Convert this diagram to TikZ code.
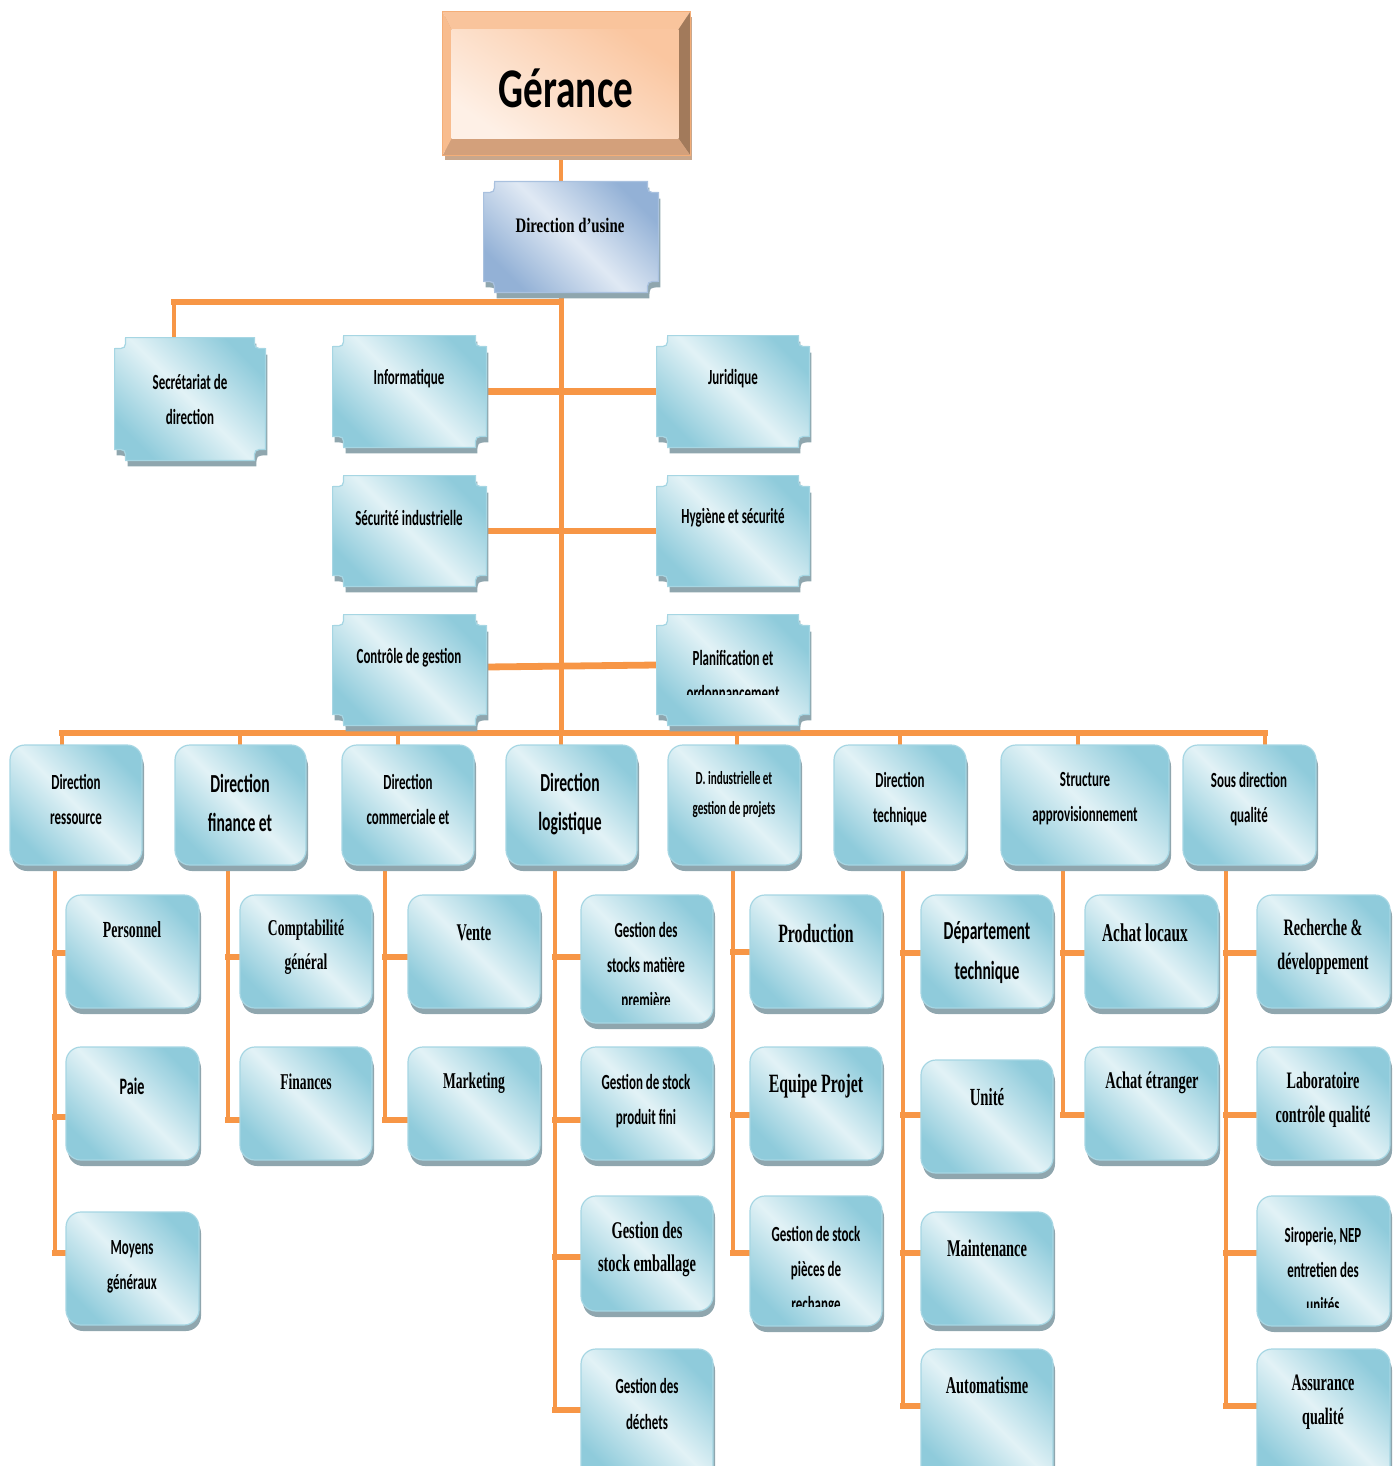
\documentclass[tikz,border=0pt]{standalone}
\usepackage{fontspec}
\usetikzlibrary{shadows,calc}
\newfontfamily\calib[FakeStretch=0.6]{Carlito}
\newfontfamily\calibwide[FakeStretch=0.7]{Carlito}
\newfontfamily\tms[FakeStretch=0.6]{Liberation Serif}
\newfontfamily\tmswide[FakeStretch=0.72]{Liberation Serif}

\definecolor{ln}{HTML}{F79646}
\definecolor{cyD}{HTML}{8FCBDB}
\definecolor{cyL}{HTML}{E2F2F6}
\definecolor{rim}{HTML}{A6D6E3}
\definecolor{shd}{HTML}{8FA6AE}
\definecolor{blD}{HTML}{93B1D6}
\definecolor{blL}{HTML}{E0E9F4}
\definecolor{blRim}{HTML}{A9C1DF}
\definecolor{gTop}{HTML}{F9C49C}
\definecolor{gLeft}{HTML}{F8BC8E}
\definecolor{gBot}{HTML}{D3A07B}
\definecolor{gRight}{HTML}{A27A5B}
\definecolor{gFaceD}{HTML}{FAC6A0}
\definecolor{gFaceL}{HTML}{FEF0E6}
\definecolor{gEdge}{HTML}{F4AE78}
\definecolor{gShd}{HTML}{C9A78C}

\pgfdeclarelayer{bg}
\pgfsetlayers{bg,main}

% box node from its corners (right/bottom values include the shadow)
\newcommand\orgbox[6][]{%
  \pgfmathsetmacro\bw{(#5-#3-2)*0.5}%
  \pgfmathsetmacro\bh{(#6-#4-7)*0.5}%
  \pgfmathsetmacro\bcx{(#3+#5-2)/2}%
  \pgfmathsetmacro\bcy{(#4+#6-7)/2}%
  \node[minimum width=\bw pt, minimum height=\bh pt, inner sep=0pt, #1] (#2) at (\bcx,\bcy) {};}

% plate outline with inward-curved corners around a node
\def\rr{11}
\newcommand\plaquepath[2]{%
  \path[#1] ($(#2.north west)+(\rr,0)$) -- ($(#2.north east)+(-\rr,0)$)
   .. controls ($(#2.north east)+(-\rr,\rr)$) .. ($(#2.north east)+(0,\rr)$)
   -- ($(#2.south east)+(0,-\rr)$)
   .. controls ($(#2.south east)+(-\rr,-\rr)$) .. ($(#2.south east)+(-\rr,0)$)
   -- ($(#2.south west)+(\rr,0)$)
   .. controls ($(#2.south west)+(\rr,-\rr)$) .. ($(#2.south west)+(0,-\rr)$)
   -- ($(#2.north west)+(0,\rr)$)
   .. controls ($(#2.north west)+(\rr,\rr)$) .. ($(#2.north west)+(\rr,0)$) -- cycle;}
\newcommand\pbox[6]{\orgbox{#2}{#3}{#4}{#5}{#6}\plaquepath{#1}{#2}}

% branch from a column spine to a child box
\newcommand\branch[3]{%
  \coordinate (b-#1) at (#2,#3);
  \draw[hl] (b-#1) -- (#1.west |- b-#1);}

\begin{document}
\begin{tikzpicture}[x=0.5pt,y=-0.5pt,
  hl/.style={draw=ln, line width=3.4pt, line cap=rect},
  vl/.style={draw=ln, line width=2.2pt, line cap=rect},
  shad/.style={drop shadow={shadow xshift=1pt, shadow yshift=-3pt, opacity=1, fill=shd}},
  rbox/.style={rectangle, rounded corners=7.5pt, draw=rim, line width=0.6pt,
    top color=cyD, bottom color=cyD, middle color=cyL, shading angle=-45, shad},
  pstyle/.style={draw=rim, line width=0.6pt,
    top color=cyD, bottom color=cyD, middle color=cyL, shading angle=-45, shad},
  ustyle/.style={draw=blRim, line width=0.6pt,
    top color=blD, bottom color=blD, middle color=blL, shading angle=-45, shad},
  sans/.style 2 args={font=\calib\bfseries\fontsize{#1}{#2}\selectfont, align=center, inner sep=0pt},
  serif/.style 2 args={font=\tms\bfseries\fontsize{#1}{#2}\selectfont, align=center, inner sep=0pt},
]
\useasboundingbox (0,0) rectangle (1396,1466);
\clip (0,0) rectangle (1396,1466);

% ---------- Gérance: bevelled plate ----------
\orgbox{ger}{443}{12}{692}{162}
\fill[gShd] ([xshift=1pt,yshift=-2.5pt]ger.north west) rectangle ([xshift=1pt,yshift=-2.5pt]ger.south east);
\coordinate (gi1) at ($(ger.north west)+(9,18)$);
\coordinate (gi2) at ($(ger.north east)+(-12,18)$);
\coordinate (gi3) at ($(ger.south east)+(-12,-17)$);
\coordinate (gi4) at ($(ger.south west)+(9,-17)$);
\fill[gTop] (ger.north west) -- (ger.north east) -- (gi2) -- (gi1) -- cycle;
\fill[gRight] (ger.north east) -- (ger.south east) -- (gi3) -- (gi2) -- cycle;
\fill[gBot] (ger.south east) -- (ger.south west) -- (gi4) -- (gi3) -- cycle;
\fill[gLeft] (ger.south west) -- (ger.north west) -- (gi1) -- (gi4) -- cycle;
\shade[top color=gFaceD, bottom color=gFaceL, shading angle=-35] (gi1) rectangle (gi3);
\draw[gEdge, line width=0.6pt] (ger.north west) rectangle (ger.south east);
\node[font=\calibwide\bfseries\fontsize{28}{32}\selectfont, inner sep=0pt] (ger-t) at (566,88) {Gérance};

% ---------- Direction d'usine ----------
\pbox{ustyle}{du}{484}{182}{660}{299}
\node[font=\tmswide\bfseries\fontsize{10.3}{12}\selectfont, inner sep=0pt] (du-t) at (570,225) {Direction d’usine};

% ---------- staff units ----------
\pbox{pstyle}{sec}{115}{338}{267}{467}
\pbox{pstyle}{info}{333}{336}{488}{454}
\pbox{pstyle}{jur}{657}{336}{811}{454}
\pbox{pstyle}{secu}{333}{476}{488}{593}
\pbox{pstyle}{hyg}{657}{476}{811}{593}
\pbox{pstyle}{ctrl}{333}{615}{488}{732}
\pbox{pstyle}{plan}{657}{615}{811}{732}

\node[sans={10.8}{17.5}] (sec-t) at (190,399) {Secrétariat de\\direction};
\node[sans={10.8}{17.5}] (info-t) at (409,379) {Informatique};
\node[sans={10.8}{17.5}] (jur-t) at (733,379) {Juridique};
\node[sans={10.8}{17.5}] (secu-t) at (409,518) {Sécurité industrielle};
\node[sans={10.8}{17.5}] (hyg-t) at (733,518) {Hygiène et sécurité};
\node[sans={10.8}{17.5}] (ctrl-t) at (409,658) {Contrôle de gestion};
\begin{scope}
  \clip (650,600) rectangle (820,694);
  \node[sans={10.8}{17.5}] (plan-t) at (733,675) {Planification et\\ordonnancement};
\end{scope}

% ---------- directorates ----------
\orgbox[rbox]{d1}{10}{745}{144}{872}
\orgbox[rbox]{d2}{175}{745}{308}{872}
\orgbox[rbox]{d3}{342}{745}{476}{872}
\orgbox[rbox]{d4}{506}{745}{639}{872}
\orgbox[rbox]{d5}{668}{745}{802}{872}
\orgbox[rbox]{d6}{834}{745}{968}{872}
\orgbox[rbox]{d7}{1001}{745}{1171}{872}
\orgbox[rbox]{d8}{1183}{745}{1318}{872}

\node[sans={10.8}{17.5}] (d1-t) at (76,799) {Direction\\ressource};
\node[sans={13}{19.5}] (d2-t) at (240,803) {Direction\\finance et};
\node[sans={10.8}{17.5}] (d3-t) at (408,799) {Direction\\commerciale et};
\node[sans={13}{19.5}] (d4-t) at (570,804) {Direction\\logistique};
\node[sans={9.3}{15}] (d5-t) at (734,795) {D. industrielle et\\gestion de projets};
\node[sans={10.8}{17.5}] (d6-t) at (900,799) {Direction\\technique};
\node[sans={10.8}{17.5}] (d7-t) at (1085,799) {Structure\\approvisionnement};
\node[sans={10.8}{17.5}] (d8-t) at (1249,799) {Sous direction\\qualité};

% ---------- services ----------
\orgbox[rbox]{c11}{66}{895}{201}{1015}
\orgbox[rbox]{c12}{66}{1047}{201}{1167}
\orgbox[rbox]{c13}{66}{1212}{201}{1332}
\orgbox[rbox]{c21}{240}{895}{374}{1015}
\orgbox[rbox]{c22}{240}{1047}{374}{1167}
\orgbox[rbox]{c31}{408}{895}{542}{1015}
\orgbox[rbox]{c32}{408}{1047}{542}{1167}
\orgbox[rbox]{c41}{581}{895}{715}{1030}
\orgbox[rbox]{c42}{581}{1047}{715}{1167}
\orgbox[rbox]{c43}{581}{1196}{715}{1318}
\orgbox[rbox]{c44}{581}{1349}{715}{1490}
\orgbox[rbox]{c51}{750}{895}{884}{1015}
\orgbox[rbox]{c52}{750}{1047}{884}{1167}
\orgbox[rbox]{c53}{750}{1196}{884}{1333}
\orgbox[rbox]{c61}{921}{895}{1055}{1015}
\orgbox[rbox]{c62}{921}{1060}{1055}{1180}
\orgbox[rbox]{c63}{921}{1212}{1055}{1332}
\orgbox[rbox]{c64}{921}{1349}{1055}{1490}
\orgbox[rbox]{c71}{1085}{895}{1220}{1015}
\orgbox[rbox]{c72}{1085}{1047}{1220}{1167}
\orgbox[rbox]{c81}{1257}{895}{1392}{1015}
\orgbox[rbox]{c82}{1257}{1047}{1392}{1167}
\orgbox[rbox]{c83}{1257}{1196}{1392}{1333}
\orgbox[rbox]{c84}{1257}{1349}{1392}{1490}

\node[serif={11.5}{17}] (c11-t) at (132,930) {Personnel};
\node[sans={11.8}{17.5}] (c12-t) at (132,1086) {Paie};
\node[sans={10.8}{17.5}] (c13-t) at (132,1267) {Moyens\\généraux};
\node[serif={11.3}{17}] (c21-t) at (306,947) {Comptabilité\\général};
\node[serif={11.3}{17}] (c22-t) at (306,1082) {Finances};
\node[serif={12}{17}] (c31-t) at (474,933) {Vente};
\node[serif={11.3}{17}] (c32-t) at (474,1083) {Marketing};
\begin{scope}
  \clip (575,880) rectangle (720,1004);
  \node[sans={10.8}{17.5}] (c41-t) at (646,967) {Gestion des\\stocks matière\\première};
\end{scope}
\node[sans={10.8}{17.5}] (c42-t) at (646,1101) {Gestion de stock\\produit fini};
\node[serif={12}{16.5}] (c43-t) at (647,1249) {Gestion des\\stock emballage};
\node[sans={10.8}{18}] (c44-t) at (647,1404) {Gestion des\\déchets};
\node[serif={13.2}{17}] (c51-t) at (816,933) {Production};
\node[serif={13.2}{17}] (c52-t) at (816,1086) {Equipe Projet};
\begin{scope}
  \clip (745,1180) rectangle (890,1306);
  \node[sans={10.8}{17.5}] (c53-t) at (816,1271) {Gestion de stock\\pièces de\\rechange};
\end{scope}
\node[sans={13}{20}] (c61-t) at (987,953) {Département\\technique};
\node[serif={12.3}{17}] (c62-t) at (987,1097) {Unité};
\node[serif={12}{17}] (c63-t) at (987,1248) {Maintenance};
\node[serif={12}{17}] (c64-t) at (987,1385) {Automatisme};
\node[serif={12.8}{17}] (c71-t) at (1145,933) {Achat locaux};
\node[serif={12}{17}] (c72-t) at (1152,1083) {Achat étranger};
\node[serif={11.8}{17}] (c81-t) at (1323,947) {Recherche \&\\développement};
\node[serif={11.8}{17}] (c82-t) at (1323,1100) {Laboratoire\\contrôle qualité};
\begin{scope}
  \clip (1250,1180) rectangle (1396,1307);
  \node[sans={10.8}{17.5}] (c83-t) at (1323,1270) {Siroperie, NEP\\entretien des\\unités};
\end{scope}
\node[serif={11.8}{17}] (c84-t) at (1323,1402) {Assurance\\qualité};

% ---------- connectors ----------
\begin{pgfonlayer}{bg}
  \coordinate (mx) at (561,0);
  \coordinate (j0) at (561,302);
  \coordinate (k0) at (174,302);
  \coordinate (bus0) at (561,733);
  \draw[vl] (ger.south -| mx) -- (du.north -| mx);
  \draw[vl, line width=2.5pt] (du.south -| mx) -- (bus0);
  \draw[hl, line width=3pt] (j0) -- (k0);
  \draw[vl] (k0) -- (sec.north -| k0);
  \draw[hl] (info.east) -- (jur.west);
  \draw[hl] (secu.east) -- (hyg.west);
  \draw[hl] ([yshift=1.5pt]ctrl.east) -- ([yshift=2.5pt]plan.west);

  % main horizontal bus and drops to the directorates
  \coordinate (bL) at (62,733);
  \coordinate (bR) at (1265,733);
  \draw[hl] (bL) -- (bR);
  \foreach \n/\x in {d1/62,d2/240,d3/398,d4/561,d5/737,d6/900,d7/1078,d8/1265}{
    \coordinate (p-\n) at (\x,733);
    \draw[vl] (p-\n) -- (\n.north -| p-\n);
  }

  % column spines and branches
  \branch{c11}{55}{953} \branch{c12}{55}{1117} \branch{c13}{55}{1253}
  \draw[vl] (d1.south -| b-c11) -- (b-c13);
  \branch{c21}{228}{957} \branch{c22}{228}{1120}
  \draw[vl] (d2.south -| b-c21) -- (b-c22);
  \branch{c31}{385}{957} \branch{c32}{385}{1120}
  \draw[vl] (d3.south -| b-c31) -- (b-c32);
  \branch{c41}{555}{957} \branch{c42}{555}{1120} \branch{c43}{555}{1257} \branch{c44}{555}{1410}
  \draw[vl] (d4.south -| b-c41) -- (b-c44);
  \branch{c51}{733}{952} \branch{c52}{733}{1115} \branch{c53}{733}{1253}
  \draw[vl] (d5.south -| b-c51) -- (b-c53);
  \branch{c61}{903}{953} \branch{c62}{903}{1115} \branch{c63}{903}{1253} \branch{c64}{903}{1406}
  \draw[vl] (d6.south -| b-c61) -- (b-c64);
  \branch{c71}{1063}{953} \branch{c72}{1063}{1115}
  \draw[vl] (d7.south -| b-c71) -- (b-c72);
  \branch{c81}{1226}{953} \branch{c82}{1226}{1115} \branch{c83}{1226}{1253} \branch{c84}{1226}{1406}
  \draw[vl] (d8.south -| b-c81) -- (b-c84);
\end{pgfonlayer}
\end{tikzpicture}
\end{document}
